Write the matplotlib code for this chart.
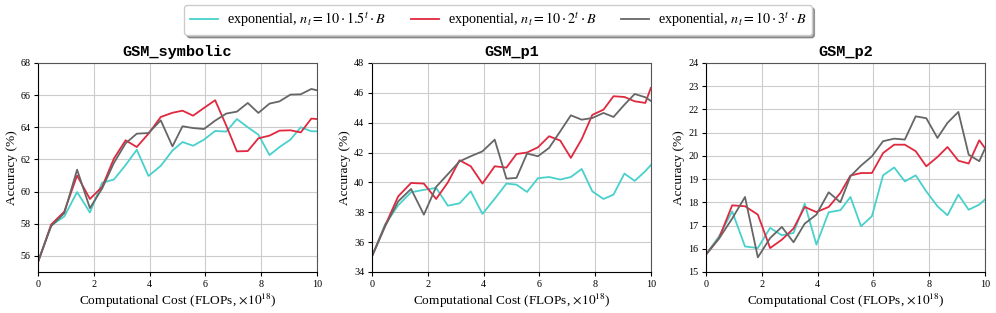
import numpy as np
import matplotlib
matplotlib.use("Agg")
import matplotlib.pyplot as plt

plt.rcParams['font.family'] = ['Liberation Serif', 'DejaVu Serif']
plt.rcParams['mathtext.fontset'] = 'stix'

# cost axis (x 1e18 FLOPs), shared by every run
cost = [0, 0.47, 0.94, 1.40, 1.86, 2.30, 2.72, 3.14, 3.54, 3.96, 4.40, 4.82, 5.18,
        5.56, 5.95, 6.35, 6.75, 7.13, 7.52, 7.90, 8.30, 8.66, 9.05, 9.42, 9.80, 10.0]

labels = [r'exponential, $n_t = 10 \cdot 1.5^t \cdot B$',
          r'exponential, $n_t = 10 \cdot 2^t \cdot B$',
          r'exponential, $n_t = 10 \cdot 3^t \cdot B$']
colors = ['#48d1cc', '#e0283f', '#666666']

titles = ['GSM_symbolic', 'GSM_p1', 'GSM_p2']

sym_15 = [55.65, 57.9, 58.45, 59.97, 58.7, 60.55, 60.75, 61.65, 62.6, 60.97, 61.6, 62.55, 63.08,
          62.85, 63.23, 63.77, 63.73, 64.51, 64.0, 63.54, 62.27, 62.77, 63.23, 64.0, 63.75, 63.75]
sym_2 = [55.6, 57.95, 58.75, 61.0, 59.54, 60.3, 62.05, 63.19, 62.77, 63.6, 64.64, 64.9, 65.03,
         64.72, 65.2, 65.68, 64.1, 62.5, 62.52, 63.31, 63.48, 63.79, 63.81, 63.68, 64.54, 64.51]
sym_3 = [55.65, 57.85, 58.66, 61.36, 58.97, 60.2, 61.78, 63.0, 63.6, 63.64, 64.43, 62.81, 64.06,
         63.95, 63.89, 64.41, 64.85, 64.97, 65.51, 64.89, 65.47, 65.61, 66.03, 66.05, 66.38, 66.3]

p1_15 = [35.05, 37.2, 38.47, 39.34, 39.5, 39.63, 38.44, 38.6, 39.4, 37.89, 38.9, 39.92, 39.85,
         39.36, 40.28, 40.36, 40.19, 40.36, 40.9, 39.4, 38.89, 39.18, 40.59, 40.1, 40.75, 41.17]
p1_2 = [35.05, 37.1, 39.07, 39.96, 39.92, 38.89, 40.0, 41.48, 41.08, 39.92, 41.08, 40.99, 41.9,
        42.0, 42.35, 43.09, 42.8, 41.64, 42.9, 44.52, 44.87, 45.77, 45.72, 45.43, 45.32, 46.33]
p1_3 = [35.05, 37.06, 38.73, 39.56, 37.84, 39.7, 40.55, 41.41, 41.75, 42.08, 42.86, 40.25, 40.3,
        41.93, 41.75, 42.31, 43.42, 44.49, 44.2, 44.31, 44.65, 44.38, 45.2, 45.92, 45.7, 45.45]

p2_15 = [15.75, 16.54, 17.61, 16.1, 16.03, 16.9, 16.58, 16.68, 17.94, 16.18, 17.57, 17.66, 18.23,
         16.97, 17.4, 19.16, 19.5, 18.9, 19.16, 18.47, 17.83, 17.44, 18.33, 17.68, 17.9, 18.12]
p2_2 = [15.75, 16.46, 17.87, 17.83, 17.47, 16.03, 16.39, 16.87, 17.8, 17.58, 17.8, 18.4, 19.15,
        19.26, 19.26, 20.12, 20.48, 20.48, 20.2, 19.55, 19.95, 20.38, 19.79, 19.67, 20.67, 20.34]
p2_3 = [15.75, 16.44, 17.3, 18.23, 15.63, 16.46, 16.94, 16.28, 17.08, 17.47, 18.43, 18.0, 19.12,
        19.58, 19.98, 20.63, 20.74, 20.7, 21.7, 21.62, 20.77, 21.42, 21.89, 20.05, 19.77, 20.3]

runs = [[sym_15, sym_2, sym_3], [p1_15, p1_2, p1_3], [p2_15, p2_2, p2_3]]
ylims = [(55, 68), (34, 48), (15, 24)]
yticks = [np.arange(56, 69, 2), np.arange(34, 49, 2), np.arange(15, 25, 1)]

fig = plt.figure(figsize=(9.96, 3.13), dpi=100)
lefts = [0.0382, 0.3735, 0.7088]
axes = []
for i in range(3):
    ax = fig.add_axes([lefts[i], 0.131, 0.280, 0.668])
    axes.append(ax)
    for j in range(3):
        ax.plot(cost, runs[i][j], color=colors[j], lw=1.3, label=labels[j])
    ax.set_xlim(0, 10)
    ax.set_ylim(*ylims[i])
    ax.set_xticks(np.arange(0, 11, 2))
    ax.set_yticks(yticks[i])
    ax.grid(True, color='#cccccc', lw=0.8)
    ax.set_axisbelow(True)
    ax.tick_params(labelsize=7.3, length=3, width=0.8, pad=2.5)
    for s in ['top', 'right']:
        ax.spines[s].set_color('#555555')
    ax.set_title(titles[i], family='Liberation Mono', fontsize=11, fontweight='bold', pad=5)
    ax.set_xlabel(r'Computational Cost (FLOPs, $\times10^{18}$)', fontsize=9.6, labelpad=2)
    ax.set_ylabel('Accuracy (%)', fontsize=9.6, labelpad=2)

handles, labs = axes[0].get_legend_handles_labels()
fig.legend(handles, labs, loc='center', bbox_to_anchor=(0.5, 0.936), ncol=3,
           fontsize=10.2, fancybox=True, shadow=True, framealpha=1,
           handlelength=2.0, handletextpad=0.6, columnspacing=1.75, borderpad=0.4)

fig.savefig('out.png', dpi=100)
